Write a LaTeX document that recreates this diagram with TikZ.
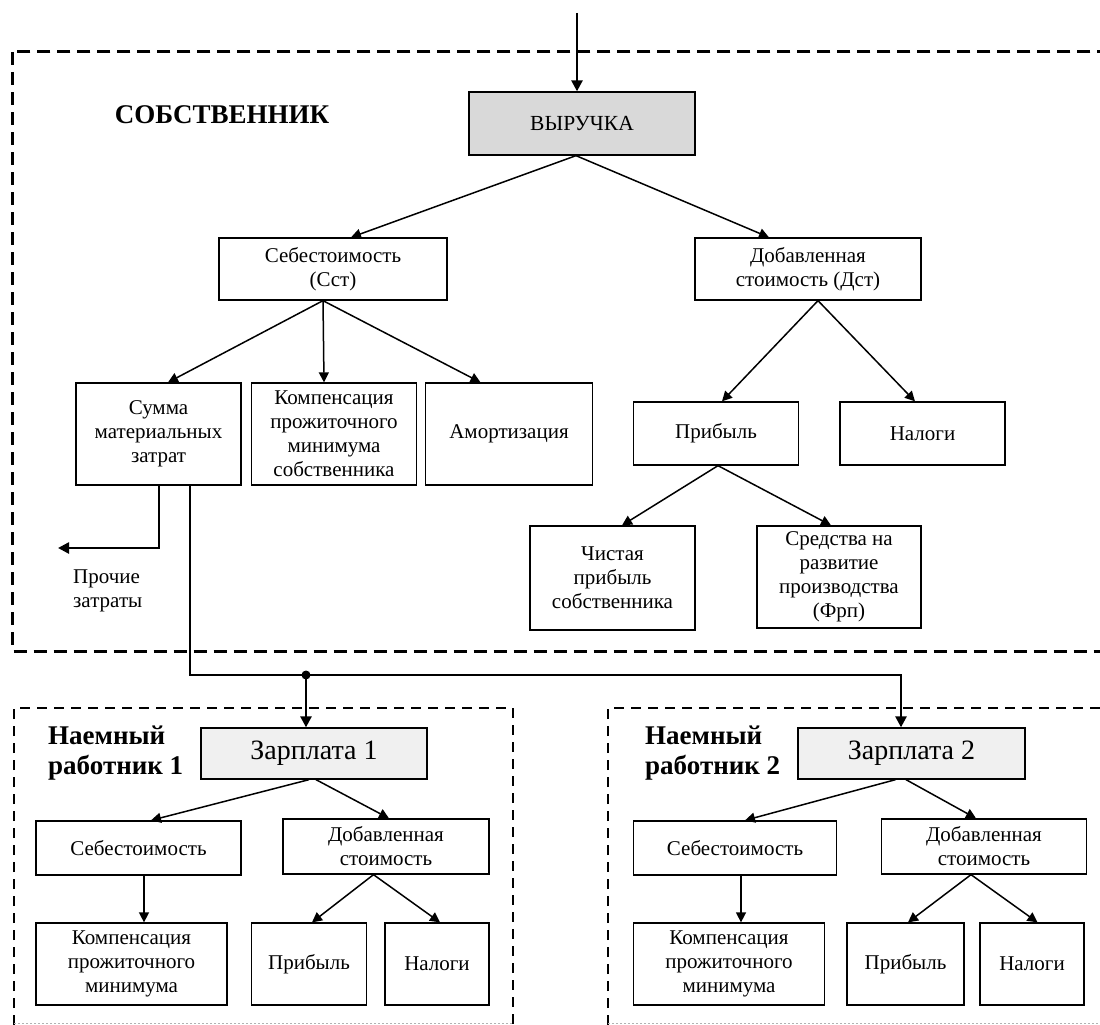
\documentclass[tikz,border=0pt]{standalone}
\usepackage{fontspec}
\setmainfont{Liberation Serif}
\usetikzlibrary{arrows.meta}
\definecolor{boxgray}{RGB}{217,217,217}
\definecolor{lightgray2}{RGB}{240,240,240}
\tikzset{
  bx/.style={draw, line width=1.3pt, align=center, inner sep=0pt, font=\fontsize{21}{24}\selectfont},
  arr/.style={line width=1.5pt, -{Triangle[length=10pt,width=10pt]}},
  thickarr/.style={line width=2.5pt, -{Triangle[length=11pt,width=11pt]}},
  bigdash/.style={line width=3pt, dash pattern=on 13pt off 7pt},
  smalldash/.style={line width=2.6pt, dash pattern=on 10pt off 7pt},
  title/.style={font=\bfseries\fontsize{27}{30}\selectfont, inner sep=0pt},
  wtitle/.style={font=\bfseries\fontsize{27}{30}\selectfont, align=left, inner sep=0pt, anchor=west},
}
\begin{document}
\begin{tikzpicture}[x=1pt,y=-1pt]
\useasboundingbox (0,0) rectangle (1100,1025);
\fill[white] (0,0) rectangle (1100,1025);

% dashed frames
\draw[bigdash] (12.6,52) rectangle (1102.5,651);
\draw[smalldash] (14,1025) -- (14,708) -- (513,708) -- (513,1025);
\draw[smalldash] (608,1025) -- (608,708) -- (1102.5,708) -- (1102.5,1025);
\draw[gray!60, line width=0.8pt, dash pattern=on 2pt off 2pt] (14,1023) -- (513,1023);
\draw[gray!60, line width=0.8pt, dash pattern=on 2pt off 2pt] (608,1023) -- (1100,1023);

% titles
\node[title] (own) at (222,115) {СОБСТВЕННИК};
\node[wtitle] (w1) at (48,753) {Наемный\\работник 1};
\node[wtitle] (w2) at (645,753) {Наемный\\работник 2};

% owner nodes
\node[bx, fill=boxgray, minimum width=226pt, minimum height=63pt, font=\fontsize{21.5}{24}\selectfont] (vyr) at (582,123.5) {ВЫРУЧКА};
\node[bx, minimum width=228pt, minimum height=62pt] (sst) at (333,269) {Себестоимость\\(Сст)};
\node[bx, minimum width=226pt, minimum height=62pt] (dst) at (808,269) {Добавленная\\стоимость (Дст)};
\node[bx, minimum width=165pt, minimum height=102pt] (summa) at (158.5,434) {Сумма\\материальных\\затрат};
\node[bx, minimum width=165.5pt, minimum height=102pt] (komp) at (334,434) {Компенсация\\прожиточного\\минимума\\собственника};
\node[bx, minimum width=167.5pt, minimum height=102pt] (amort) at (509,434) {Амортизация};
\node[bx, minimum width=165.5pt, minimum height=63pt] (prib) at (716,433.5) {Прибыль};
\node[bx, minimum width=165pt, minimum height=63pt] (nal) at (922.5,433.5) {Налоги};
\node[bx, minimum width=165pt, minimum height=104pt] (chist) at (612.5,578) {Чистая\\прибыль\\собственника};
\node[bx, minimum width=164pt, minimum height=102pt] (sred) at (839,577) {Средства на\\развитие\\производства\\(Фрп)};
\node[font=\fontsize{21}{24}\selectfont, align=left, anchor=west, inner sep=0pt] (proch) at (73,591) {Прочие\\затраты};

% worker 1
\node[bx, fill=lightgray2, minimum width=226pt, minimum height=51pt, font=\fontsize{28}{30}\selectfont] (z1) at (314,753.5) {Зарплата 1};
\node[bx, minimum width=205pt, minimum height=54pt] (seb1) at (138.5,848) {Себестоимость};
\node[bx, minimum width=206pt, minimum height=55pt] (dob1) at (386,846.5) {Добавленная\\стоимость};
\node[bx, minimum width=191pt, minimum height=82pt] (komp1) at (131.5,964) {Компенсация\\прожиточного\\минимума};
\node[bx, minimum width=115pt, minimum height=82pt] (prib1) at (309,964) {Прибыль};
\node[bx, minimum width=104pt, minimum height=82pt] (nal1) at (437,964) {Налоги};

% worker 2
\node[bx, fill=lightgray2, minimum width=227pt, minimum height=51pt, font=\fontsize{28}{30}\selectfont] (z2) at (911.5,753.5) {Зарплата 2};
\node[bx, minimum width=203.5pt, minimum height=54pt] (seb2) at (735,848) {Себестоимость};
\node[bx, minimum width=205.5pt, minimum height=55pt] (dob2) at (984,846.5) {Добавленная\\стоимость};
\node[bx, minimum width=191pt, minimum height=82pt] (komp2) at (729,964) {Компенсация\\прожиточного\\минимума};
\node[bx, minimum width=117pt, minimum height=82pt] (prib2) at (905.5,964) {Прибыль};
\node[bx, minimum width=104pt, minimum height=82pt] (nal2) at (1032,964) {Налоги};

% coordinates
\coordinate (src) at (577,13);
\coordinate (prochEnd) at (58,548);
\coordinate (jn) at (306,675);

% owner connectors
\draw[thickarr] (src) -- ([xshift=-5pt]vyr.north);
\draw[arr] ([xshift=-6pt]vyr.south) -- ([xshift=18pt]sst.north);
\draw[arr] ([xshift=-6pt]vyr.south) -- ([xshift=-39pt]dst.north);
\draw[arr] ([xshift=-10pt]sst.south) -- ([xshift=9.5pt]summa.north);
\draw[arr] ([xshift=-10pt]sst.south) -- ([xshift=-10pt]komp.north);
\draw[arr] ([xshift=-10pt]sst.south) -- ([xshift=-28.5pt]amort.north);
\draw[arr] ([xshift=10pt]dst.south) -- ([xshift=6pt]prib.north);
\draw[arr] ([xshift=10pt]dst.south) -- ([xshift=-7.5pt]nal.north);
\draw[arr] ([xshift=2pt]prib.south) -- ([xshift=9.5pt]chist.north);
\draw[arr] ([xshift=2pt]prib.south) -- ([xshift=-8pt]sred.north);
\draw[thickarr] ([xshift=0.5pt]summa.south) |- (prochEnd);
\draw[thickarr] ([xshift=31.5pt]summa.south) |- (jn) -| ([xshift=-10.5pt]z2.north);
\draw[thickarr] (jn) -- ([xshift=-8pt]z1.north);
\fill (jn) circle (4.5pt);

% worker 1 connectors
\draw[arr] ([xshift=-5pt]z1.south) -- ([xshift=12.5pt]seb1.north);
\draw[arr] ([xshift=2pt]z1.south) -- ([xshift=3pt]dob1.north);
\draw[arr] ([xshift=5.5pt]seb1.south) -- ([xshift=12.5pt]komp1.north);
\draw[arr] ([xshift=-12.5pt]dob1.south) -- ([xshift=3pt]prib1.north);
\draw[arr] ([xshift=-12.5pt]dob1.south) -- ([xshift=3pt]nal1.north);

% worker 2 connectors
\draw[arr] ([xshift=-16pt]z2.south) -- ([xshift=10pt]seb2.north);
\draw[arr] ([xshift=-5.5pt]z2.south) -- ([xshift=-8pt]dob2.north);
\draw[arr] ([xshift=6pt]seb2.south) -- ([xshift=12pt]komp2.north);
\draw[arr] ([xshift=-13pt]dob2.south) -- ([xshift=2.5pt]prib2.north);
\draw[arr] ([xshift=-13pt]dob2.south) -- ([xshift=5.5pt]nal2.north);
\end{tikzpicture}
\end{document}
